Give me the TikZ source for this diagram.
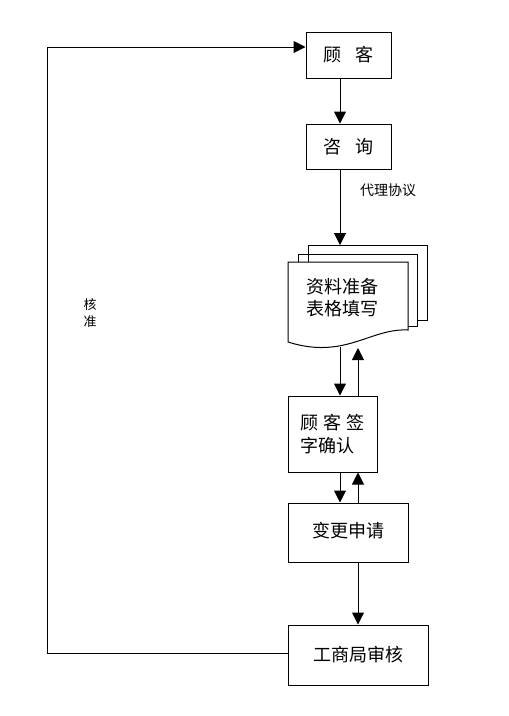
\documentclass[tikz,border=0pt]{standalone}
\usepackage{fontspec}
\newfontfamily\cjk{Noto Sans CJK SC}
\usepackage{tikz}
\usetikzlibrary{arrows.meta}
\tikzstyle{arrow} = [line width=1pt,->,>={Triangle[length=12pt,width=12pt]}]
\tikzstyle{box} = [draw=black, line width=1pt, rectangle, font=\cjk\fontsize{18}{23}\selectfont]

\begin{document}
\begin{tikzpicture}[x=1pt,y=-1pt]
        % Bounding box
        \useasboundingbox (0,0) rectangle (509,716);

        % Arrow columns
        \coordinate (lx) at (340,0);
        \coordinate (rx) at (358,0);

        % Nodes
        \node[box, minimum width=85, minimum height=46] (guke) at (348.5,55) {顾\hspace{0.8em}客};
        \node[box, minimum width=85, minimum height=45] (zixun) at (348.5,146.5) {咨\hspace{0.8em}询};
        \node[box, minimum width=89, minimum height=76, align=left] (qianzi) at (332.5,434) {顾\hspace{0.3em}客\hspace{0.3em}签\\字确认};
        \node[box, minimum width=120, minimum height=59] (biangeng) at (348,532.5) {\raisebox{5pt}{变更申请}};
        \node[box, minimum width=140, minimum height=60] (shenhe) at (358,655) {工商局审核};

        % Document stack
        \draw[line width=1pt] (308,262) -- (308,245) -- (427,245) -- (427,320) -- (417,320);
        \draw[line width=1pt] (298,262) -- (298,254) -- (417,254) -- (417,326) -- (408,326);
        \draw[line width=1pt, fill=white] (288,262) -- (408,262) -- (408,330)
            .. controls (370,328) and (345,360) .. (288,342) -- cycle;
        \node[font=\cjk\fontsize{18}{22}\selectfont, align=left] (ziliao) at (342,298) {资料准备\\表格填写};
        \coordinate (docT) at (340,245);
        \coordinate (docD) at (340,347);
        \coordinate (docU) at (358,348);

        % Labels
        \node[font=\cjk\fontsize{14}{16}\selectfont] (daili) at (388,190) {代理协议};
        \node[font=\cjk\fontsize{13}{17}\selectfont, align=center] (hezhun) at (90,313) {核\\准};

        % Edges
        \draw[arrow] (guke.south -| lx) -- (zixun.north -| lx);
        \draw[arrow] (zixun.south -| lx) -- (docT);
        \draw[arrow] (docD) -- (qianzi.north -| lx);
        \draw[arrow] (qianzi.north -| rx) -- (docU);
        \draw[arrow] (qianzi.south -| lx) -- (biangeng.north -| lx);
        \draw[arrow] (biangeng.north -| rx) -- (qianzi.south -| rx);
        \draw[arrow] (biangeng.south -| rx) -- (shenhe.north -| rx);

        % Feedback loop
        \coordinate (loopB) at (47,653);
        \coordinate (loopT) at (47,47);
        \draw[arrow] (shenhe.west |- loopB) -- (loopB) -- (loopT) -- (loopT -| guke.west);

    \end{tikzpicture}
\end{document}
